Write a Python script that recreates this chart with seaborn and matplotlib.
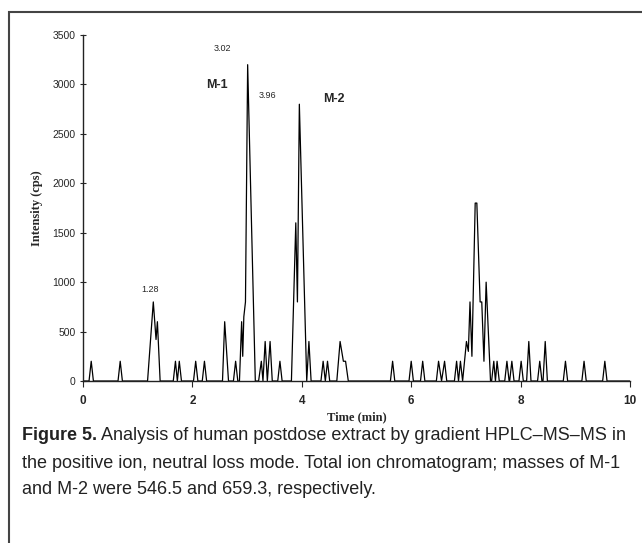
import pandas as pd
import matplotlib.pyplot as plt
import seaborn as sns
from matplotlib.patches import Rectangle

sns.set_style('ticks')
plt.rcParams['font.family'] = ['Liberation Sans', 'DejaVu Sans']

# chromatogram vertices (time in min, intensity in cps)
time_min = [0.0, 0.11, 0.15, 0.19, 0.64, 0.68, 0.72,
            1.18, 1.285, 1.335, 1.36, 1.41,
            1.65, 1.69, 1.725, 1.76, 1.80, 2.02, 2.06, 2.10, 2.18, 2.22, 2.26,
            2.55, 2.59, 2.66, 2.75, 2.79, 2.83,
            2.86, 2.90, 2.92, 2.94, 2.97, 3.01, 3.15,
            3.21, 3.26, 3.29, 3.33, 3.37, 3.42, 3.46, 3.56, 3.60, 3.64,
            3.81, 3.89, 3.92, 3.955, 4.09, 4.13, 4.17,
            4.35, 4.39, 4.43, 4.47, 4.51, 4.64, 4.70, 4.76, 4.80, 4.85,
            5.62, 5.66, 5.70, 5.96, 6.00, 6.04, 6.17, 6.21, 6.25,
            6.46, 6.50, 6.555, 6.61, 6.65, 6.79, 6.83, 6.865, 6.90, 6.94,
            7.01, 7.045, 7.075, 7.11, 7.17, 7.20, 7.26, 7.29, 7.33, 7.37, 7.45,
            7.47, 7.51, 7.54, 7.57, 7.61, 7.71, 7.75, 7.79, 7.80, 7.84, 7.88,
            7.97, 8.01, 8.05, 8.11, 8.15, 8.19, 8.31, 8.35, 8.39, 8.41, 8.45, 8.49,
            8.78, 8.82, 8.86, 9.12, 9.16, 9.20, 9.50, 9.54, 9.58, 10.0]
intensity = [0, 0, 200, 0, 0, 200, 0,
             0, 800, 420, 600, 0,
             0, 200, 0, 200, 0, 0, 200, 0, 0, 200, 0,
             0, 600, 0, 0, 200, 0,
             0, 600, 250, 650, 800, 3200, 0,
             0, 200, 0, 400, 0, 400, 0, 0, 200, 0,
             0, 1600, 800, 2800, 0, 400, 0,
             0, 200, 0, 200, 0, 0, 400, 200, 200, 0,
             0, 200, 0, 0, 200, 0, 0, 200, 0,
             0, 200, 0, 200, 0, 0, 200, 0, 200, 0,
             400, 300, 800, 250, 1800, 1800, 800, 800, 200, 1000, 0,
             0, 200, 0, 200, 0, 0, 200, 0, 0, 200, 0,
             0, 200, 0, 0, 400, 0, 0, 200, 0, 0, 400, 0,
             0, 200, 0, 0, 200, 0, 0, 200, 0, 0]

peak_labels = ['3.02', '3.96', '1.28']
peak_label_pos = [(2.55, 3365), (3.38, 2890), (1.22, 930)]
compound_labels = ['M-1', 'M-2']
compound_label_pos = [(2.45, 2995), (4.58, 2850)]

df = pd.DataFrame({'Time (min)': time_min, 'Intensity (cps)': intensity})

fig = plt.figure(figsize=(6.42, 5.43), dpi=100)
ax = fig.add_axes([0.1293, 0.2983, 0.852, 0.6372])

sns.lineplot(data=df, x='Time (min)', y='Intensity (cps)', estimator=None, sort=False,
             color='black', linewidth=0.9, ax=ax)

ax.set_xlim(0, 10)
ax.set_ylim(0, 3500)
ax.set_xticks(range(0, 11, 2))
ax.set_yticks(range(0, 3501, 500))
sns.despine(ax=ax)
for s in ['left', 'bottom']:
    ax.spines[s].set_color('#222222')
    ax.spines[s].set_linewidth(1.0)
ax.tick_params(axis='y', direction='inout', length=5, width=0.8, labelsize=7.5, pad=3)
ax.tick_params(axis='x', direction='out', length=4, width=0.8, labelsize=8.5, pad=6)
for lab in ax.get_xticklabels():
    lab.set_fontweight('bold')

ax.set_xlabel('Time (min)', family='Liberation Serif', fontweight='bold', fontsize=9, labelpad=3)
ax.set_ylabel('Intensity (cps)', family='Liberation Serif', fontweight='bold', fontsize=9, labelpad=7)

for txt, (x, y) in zip(peak_labels, peak_label_pos):
    ax.text(x, y, txt, fontsize=6.5, ha='center', va='center')
for txt, (x, y) in zip(compound_labels, compound_label_pos):
    ax.text(x, y, txt, fontsize=9, fontweight='bold', ha='center', va='center')

# border around figure panel
fig.patches.append(Rectangle((9 / 642, -0.02), 1.05, 1 - 12 / 543 + 0.02, transform=fig.transFigure,
                             fill=False, edgecolor='#444444', linewidth=1.5))

# caption
cap_font = ['Liberation Sans', 'DejaVu Sans']
cap_size = 13
x0 = 22 / 642
fig.canvas.draw()
r = fig.canvas.get_renderer()
t1 = fig.text(x0, 1 - 436 / 543, 'Figure 5.', family=cap_font, fontweight='bold',
              fontsize=cap_size, va='center', color='#222222')
bb = t1.get_window_extent(renderer=r)
fig.text(bb.x1 / fig.bbox.width, 1 - 436 / 543,
         ' Analysis of human postdose extract by gradient HPLC\u2013MS\u2013MS in',
         family=cap_font, fontsize=cap_size, va='center', color='#222222')
fig.text(x0, 1 - 463 / 543,
         'the positive ion, neutral loss mode. Total ion chromatogram; masses of M-1',
         family=cap_font, fontsize=cap_size, va='center', color='#222222')
fig.text(x0, 1 - 490 / 543, 'and M-2 were 546.5 and 659.3, respectively.',
         family=cap_font, fontsize=cap_size, va='center', color='#222222')

plt.savefig('out.png', dpi=100)
